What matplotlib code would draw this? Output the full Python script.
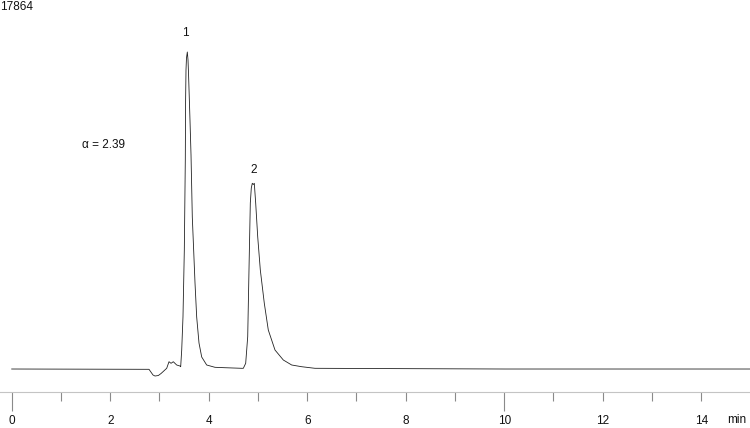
import matplotlib
matplotlib.use("Agg")
import matplotlib.pyplot as plt

plt.rcParams['font.family'] = ['Liberation Sans', 'DejaVu Sans']

# chromatogram trace (time in min, detector signal)
time_min = [0.000, 2.788, 2.822, 2.869, 2.910, 2.977, 3.032, 3.072, 3.147,
            3.194, 3.235, 3.281, 3.350, 3.417, 3.431, 3.452, 3.478, 3.505,
            3.525, 3.531, 3.539, 3.549, 3.566, 3.580, 3.590, 3.620, 3.641,
            3.667, 3.722, 3.756, 3.803, 3.858, 3.959, 4.128, 4.331, 4.670,
            4.703, 4.751, 4.792, 4.818, 4.845, 4.865, 4.885, 4.906, 4.926,
            4.954, 4.995, 5.048, 5.129, 5.210, 5.346, 5.515, 5.685, 5.888,
            6.158, 10.000, 14.991]
signal = [0, -15, -131, -290, -339, -315, -218, -131, 34,
          353, 276, 353, 194, 145, 111, 920, 2532, 5761,
          10118, 13022, 14475, 15061, 15346, 14959, 14329, 12054, 10360,
          7359, 4163, 2517, 1259, 581, 194, 82, 63, 34,
          34, 276, 1564, 4793, 8036, 8762, 8990, 8932, 8990,
          8036, 6405, 4793, 3181, 1888, 920, 436, 194, 111,
          34, 0, 0]

peak_names = ['1', '2']
peak_times = [3.566, 4.906]
peak_heights = [15346, 8990]
alpha_text = 'α = 2.39'
y_max = 17864
y_min = -1113
x_ticks = list(range(0, 15))
x_labels = [str(t) if t % 2 == 0 else '' for t in x_ticks]

fig = plt.figure(figsize=(7.5, 4.28), dpi=100)
ax = fig.add_axes([0, 36 / 428, 1, 392 / 428])

ax.plot(time_min, signal, color='#222222', lw=0.6)

ax.set_xlim(-0.2376, 14.991)
ax.set_ylim(y_min, y_max)

for s in ['top', 'left', 'right']:
    ax.spines[s].set_visible(False)
ax.spines['bottom'].set_color('#c4c4c4')
ax.spines['bottom'].set_linewidth(0.8)
ax.set_yticks([])

ax.set_xticks(x_ticks)
ax.set_xticklabels(x_labels)
ax.tick_params(axis='x', direction='out', length=6.5, width=0.8,
               color='#8a8a8a', labelsize=8.5, pad=10, labelcolor='#111111')

# the zero and ten-minute marks are drawn longer
ticks = ax.xaxis.get_major_ticks()
ticks[0].tick1line.set_markersize(13.5)
ticks[0].tick1line.set_color('#333333')
ticks[10].tick1line.set_markersize(13.5)
ticks[10].tick1line.set_color('#d0d0d0')

for name, t, h, dx, dy in zip(peak_names, peak_times, peak_heights,
                              [-1.3, 0.5], [13.7, 9.4]):
    ax.annotate(name, xy=(t, h), xytext=(dx, dy), textcoords='offset points',
                ha='center', va='center', fontsize=8.5, color='#111111')

ax.text(1.854, 10844, alpha_text, ha='center', va='center', fontsize=8.5,
        color='#111111')

fig.text(0.0, 1 - 1 / 428, f'{y_max}', ha='left', va='top', fontsize=8.5,
         color='#111111')
fig.text(737 / 750, 5 / 428, 'min', ha='center', va='baseline',
         fontsize=8.5, color='#111111')

fig.savefig('out.png', dpi=100)
